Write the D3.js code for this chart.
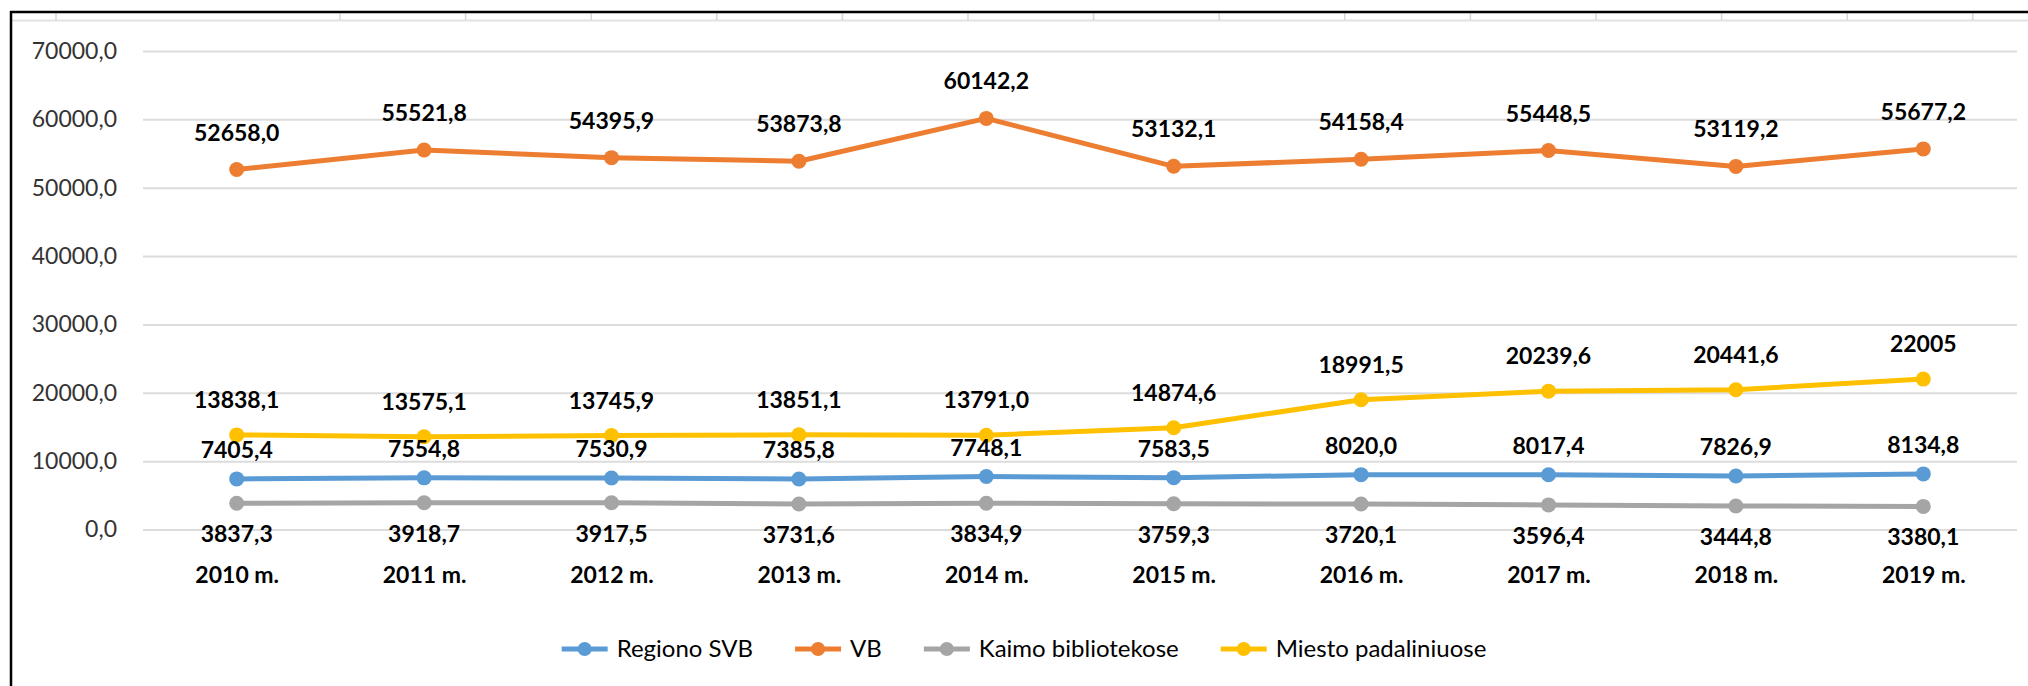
<!DOCTYPE html>
<html>
<head>
<meta charset="utf-8">
<script src="https://cdn.jsdelivr.net/npm/d3@7"></script>
<style>
  html, body { margin: 0; padding: 0; background: #fff; }
  svg { display: block; }
  text { font-family: Lato, "Open Sans", sans-serif; }
</style>
</head>
<body>
<svg id="chart" width="2028" height="686"></svg>
<script>
// ---- data (as displayed in the original labels) ----
const categories = ["2010 m.", "2011 m.", "2012 m.", "2013 m.", "2014 m.", "2015 m.", "2016 m.", "2017 m.", "2018 m.", "2019 m."];
const regionoSVB = ["7405,4", "7554,8", "7530,9", "7385,8", "7748,1", "7583,5", "8020,0", "8017,4", "7826,9", "8134,8"];
const vb = ["52658,0", "55521,8", "54395,9", "53873,8", "60142,2", "53132,1", "54158,4", "55448,5", "53119,2", "55677,2"];
const kaimoBibliotekose = ["3837,3", "3918,7", "3917,5", "3731,6", "3834,9", "3759,3", "3720,1", "3596,4", "3444,8", "3380,1"];
const miestoPadaliniuose = ["13838,1", "13575,1", "13745,9", "13851,1", "13791,0", "14874,6", "18991,5", "20239,6", "20441,6", "22005"];
const seriesNames = ["Regiono SVB", "VB", "Kaimo bibliotekose", "Miesto padaliniuose"];
const yTicks = [0, 10000, 20000, 30000, 40000, 50000, 60000, 70000];

// ---- styles ----
const colors = ["#5B9BD5", "#ED7D31", "#A5A5A5", "#FFC000"];
const labelOffsets = [-29, -37, 31, -35];

const toNum = s => parseFloat(s.replace(",", "."));
const series = [regionoSVB, vb, kaimoBibliotekose, miestoPadaliniuose].map((arr, i) => ({
  name: seriesNames[i],
  color: colors[i],
  offset: labelOffsets[i],
  points: arr.map((s, j) => ({ cat: categories[j], text: s, value: toNum(s) }))
}));

const svg = d3.select("#chart");
const W = 2028, H = 686;
const plotLeft = 143, plotRight = 2017, plotTop = 51, plotBottom = 529.5;

// spreadsheet cell grid visible at top
const cellLines = svg.append("g");
cellLines.append("line").attr("x1", 12).attr("x2", W).attr("y1", 20.5).attr("y2", 20.5)
  .attr("stroke", "#e2e2e2").attr("stroke-width", 2);
const colXs = [56];
for (let x = 340; x < W; x += 125.6) colXs.push(x);
colXs.forEach(x => cellLines.append("line").attr("x1", x).attr("x2", x).attr("y1", 13).attr("y2", 20)
  .attr("stroke", "#d3d7e3").attr("stroke-width", 1.5));

// chart border (left and top visible)
svg.append("line").attr("x1", 11).attr("x2", 11).attr("y1", 11).attr("y2", H).attr("stroke", "#000").attr("stroke-width", 2.5);
svg.append("line").attr("x1", 10).attr("x2", W).attr("y1", 12).attr("y2", 12).attr("stroke", "#000").attr("stroke-width", 2.5);

const x = d3.scalePoint().domain(categories).range([plotLeft, plotRight]).padding(0.5);
const y = d3.scaleLinear().domain([0, 70000]).range([plotBottom, plotTop]);

const fmt = v => d3.format(".1f")(v).replace(".", ",");

// y axis + gridlines
const yAxis = svg.append("g").attr("transform", `translate(${plotLeft},0)`)
  .call(d3.axisLeft(y).tickValues(yTicks).tickFormat(fmt).tickSize(-(plotRight - plotLeft)).tickPadding(26));
yAxis.select(".domain").remove();
yAxis.selectAll(".tick line").attr("stroke", "#dcdcdc").attr("stroke-width", 2);
yAxis.selectAll(".tick text").attr("font-size", 23).attr("fill", "#333")
  .attr("font-family", "Lato, sans-serif");

// x axis labels
const xAxis = svg.append("g").attr("transform", `translate(0,575)`)
  .call(d3.axisBottom(x).tickSize(0).tickPadding(0));
xAxis.select(".domain").remove();
xAxis.selectAll(".tick text").attr("y", 0).attr("dy", "0.35em")
  .attr("font-size", 23).attr("font-weight", "bold").attr("fill", "#000")
  .attr("font-family", "Lato, sans-serif");

// lines and markers
const line = d3.line().x(d => x(d.cat)).y(d => y(d.value));
series.forEach(s => {
  const g = svg.append("g");
  g.append("path").datum(s.points).attr("d", line)
    .attr("fill", "none").attr("stroke", s.color).attr("stroke-width", 5)
    .attr("stroke-linejoin", "round").attr("stroke-linecap", "round");
  g.selectAll("circle").data(s.points).join("circle")
    .attr("cx", d => x(d.cat)).attr("cy", d => y(d.value)).attr("r", 7.5)
    .attr("fill", s.color);
});

// data labels
series.forEach(s => {
  svg.append("g").selectAll("text").data(s.points).join("text")
    .attr("x", d => x(d.cat)).attr("y", d => y(d.value) + s.offset)
    .attr("dy", "0.35em").attr("text-anchor", "middle")
    .attr("font-size", 23).attr("font-weight", "bold").attr("fill", "#000")
    .text(d => d.text);
});

// legend
const legendY = 649;
const leg = svg.append("g");
let cursor = 0;
series.forEach((s, i) => {
  const g = leg.append("g");
  g.append("line").attr("x1", 0).attr("x2", 46).attr("y1", 0).attr("y2", 0)
    .attr("stroke", s.color).attr("stroke-width", 5);
  g.append("circle").attr("cx", 23).attr("cy", 0).attr("r", 7).attr("fill", s.color);
  const t = g.append("text").attr("x", 55).attr("y", 0).attr("dy", "0.35em")
    .attr("font-size", 24).attr("fill", "#000").text(s.name);
  const w = 55 + t.node().getComputedTextLength();
  g.attr("transform", `translate(${cursor},${legendY})`);
  cursor += w + (i < series.length - 1 ? 42 : 0);
});
const legendCenter = 1024;
leg.attr("transform", `translate(${legendCenter - cursor / 2},0)`);
</script>
</body>
</html>
